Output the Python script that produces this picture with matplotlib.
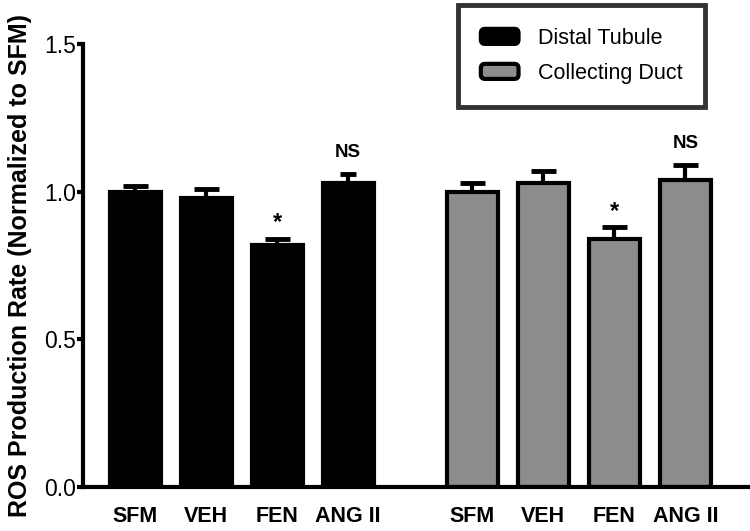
import matplotlib
matplotlib.use("Agg")
import matplotlib.pyplot as plt
from matplotlib.patches import FancyBboxPatch, Patch
from matplotlib.legend_handler import HandlerPatch

plt.rcParams['font.family'] = ['Liberation Sans', 'DejaVu Sans']

categories = ["SFM", "VEH", "FEN", "ANG II"]
distal_vals = [1.00, 0.98, 0.82, 1.03]
distal_err = [0.02, 0.03, 0.02, 0.03]
collect_vals = [1.00, 1.03, 0.84, 1.04]
collect_err = [0.03, 0.04, 0.04, 0.05]
marks = ["", "", "*", "NS"]

x1 = [0, 1, 2, 3]
x2 = [4.75, 5.75, 6.75, 7.75]
gray = '#8c8c8c'


class RoundHandler(HandlerPatch):
    # rounded legend keys like the original
    def create_artists(self, legend, orig_handle, xdescent, ydescent,
                       width, height, fontsize, trans):
        p = FancyBboxPatch((-xdescent, -ydescent), width, height,
                           boxstyle="round,pad=0,rounding_size=3",
                           facecolor=orig_handle.get_facecolor(),
                           edgecolor='black', linewidth=3, transform=trans)
        return [p]


fig = plt.figure(figsize=(7.5, 5.31), dpi=100)
ax = fig.add_axes([0.111, 0.083, 0.889, 0.834])

w = 0.72
ax.bar(x1, distal_vals, width=w, color='black', edgecolor='black', linewidth=3, zorder=2)
ax.bar(x2, collect_vals, width=w, color=gray, edgecolor='black', linewidth=3, zorder=2)

caps1 = [9, 9, 9, 5.5]
for xi, v, e, c in zip(x1, distal_vals, distal_err, caps1):
    ax.errorbar([xi], [v], yerr=[[0], [e]], fmt='none', ecolor='black',
                elinewidth=3, capsize=c, capthick=3.5, zorder=1)
ax.errorbar(x2, collect_vals, yerr=[[0]*4, collect_err], fmt='none', ecolor='black',
            elinewidth=3, capsize=9, capthick=3.5, zorder=1)

for xs, vals, errs in [(x1, distal_vals, distal_err), (x2, collect_vals, collect_err)]:
    for xi, v, e, m in zip(xs, vals, errs, marks):
        if m == "NS":
            ax.text(xi, v + e + 0.045, m, ha='center', va='bottom',
                    fontsize=13.5, fontweight='bold')
        elif m:
            ax.text(xi, v + e + 0.015, m, ha='center', va='bottom',
                    fontsize=17, fontweight='bold')

ax.set_xlim(-0.73, 8.66)
ax.set_ylim(0, 1.5)
ax.set_yticks([0.0, 0.5, 1.0, 1.5])
ax.set_yticklabels(["0.0", "0.5", "1.0", "1.5"], fontsize=16.5)
ax.set_xticks(x1 + x2)
ax.set_xticklabels(categories + categories, fontsize=15.5, fontweight='bold')
ax.tick_params(axis='x', length=0, pad=14)
ax.tick_params(axis='y', length=4, width=3, direction='out', pad=1)
ax.spines['top'].set_visible(False)
ax.spines['right'].set_visible(False)
ax.spines['left'].set_linewidth(3)
ax.spines['bottom'].set_linewidth(3)
ax.set_ylabel("ROS Production Rate (Normalized to SFM)", fontsize=18,
              fontweight='bold', labelpad=9)

handles = [Patch(facecolor='black', label='Distal Tubule'),
           Patch(facecolor=gray, label='Collecting Duct')]
leg = fig.legend(handles=handles, loc='upper left', bbox_to_anchor=(0.611, 0.99),
                 fontsize=15.5, frameon=True, fancybox=False, edgecolor='black',
                 borderpad=1.05, labelspacing=0.65, handlelength=1.75,
                 handleheight=0.7, handletextpad=0.9, borderaxespad=0,
                 handler_map={Patch: RoundHandler()})
leg.get_frame().set_linewidth(3.5)

fig.savefig("out.png", dpi=100)
